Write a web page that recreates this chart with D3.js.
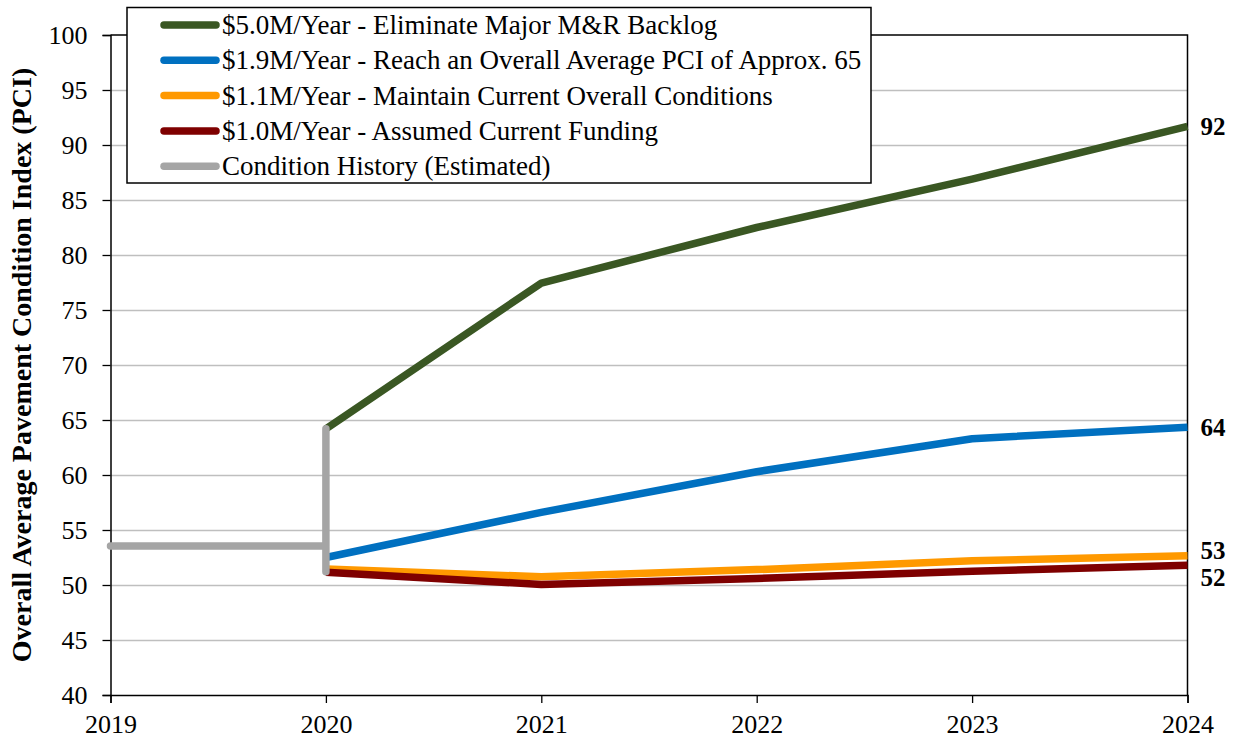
<!DOCTYPE html>
<html>
<head>
<meta charset="utf-8">
<script src="https://cdn.jsdelivr.net/npm/d3@7"></script>
<style>
  html, body { margin: 0; padding: 0; background: #fff; }
  svg { display: block; }
  text { font-family: "Liberation Serif", "Times New Roman", serif; fill: #000; }
</style>
</head>
<body>
<svg id="chart" width="1237" height="742"></svg>
<script>
// ---- Data ----
const years = [2019, 2020, 2021, 2022, 2023, 2024];
const yTicks = [40, 45, 50, 55, 60, 65, 70, 75, 80, 85, 90, 95, 100];

const seriesNames = [
  "$5.0M/Year - Eliminate Major M&R Backlog",
  "$1.9M/Year - Reach an Overall Average PCI of Approx. 65",
  "$1.1M/Year - Maintain Current Overall Conditions",
  "$1.0M/Year - Assumed Current Funding",
  "Condition History (Estimated)"
];
const seriesColors = ["#3A5723", "#0070C0", "#FF9900", "#7F0000", "#A5A5A5"];

const projYears = [2020, 2021, 2022, 2023, 2024];
const pci5_0 = [64.2, 77.45, 82.5, 86.9, 91.7];
const pci1_9 = [52.5, 56.6, 60.3, 63.3, 64.35];
const pci1_1 = [51.45, 50.75, 51.4, 52.2, 52.65];
const pci1_0 = [51.15, 50.05, 50.6, 51.25, 51.8];

const historyYears = [2019, 2020, 2020, 2020];
const historyPci = [53.55, 53.55, 64.2, 51.2];

const endLabels = ["92", "64", "53", "52"];

// ---- Layout ----
const svg = d3.select("#chart");
const pLeft = 110.5, pRight = 1187.5, pTop = 35, pBottom = 695;

const x = d3.scaleLinear().domain([2019, 2024]).range([pLeft, pRight]);
const y = d3.scaleLinear().domain([40, 100]).range([pBottom, pTop]);

const FONT = '"Liberation Serif", "Times New Roman", serif';

// Gridlines
svg.append("g")
  .selectAll("line")
  .data(yTicks.filter(d => d > 40 && d < 100))
  .join("line")
  .attr("x1", pLeft).attr("x2", pRight)
  .attr("y1", d => Math.round(y(d)) + 0.5).attr("y2", d => Math.round(y(d)) + 0.5)
  .attr("stroke", "#BFBFBF").attr("stroke-width", 1.3);

// Plot border (top and right)
svg.append("path")
  .attr("d", `M${pLeft},${pTop}H${pRight}V${pBottom}`)
  .attr("fill", "none").attr("stroke", "#000").attr("stroke-width", 1.5);

// Y axis
const yAxis = svg.append("g")
  .attr("transform", `translate(${pLeft},0)`)
  .call(d3.axisLeft(y).tickValues(yTicks).tickSize(8).tickPadding(15).tickFormat(d3.format("d")));
yAxis.select(".domain").attr("stroke", "#000").attr("stroke-width", 1.5);
yAxis.selectAll(".tick line").attr("stroke", "#000").attr("stroke-width", 1.3);
yAxis.selectAll(".tick text").attr("font-family", FONT).attr("font-size", 26).attr("fill", "#000");

// X axis
const xAxis = svg.append("g")
  .attr("transform", `translate(0,${pBottom})`)
  .call(d3.axisBottom(x).tickValues(years).tickSize(8).tickPadding(12).tickFormat(d3.format("d")));
xAxis.select(".domain").attr("stroke", "#000").attr("stroke-width", 1.5);
xAxis.selectAll(".tick line").attr("stroke", "#000").attr("stroke-width", 1.3);
xAxis.selectAll(".tick text").attr("font-family", FONT).attr("font-size", 26).attr("fill", "#000");

// Y axis title
svg.append("text")
  .attr("transform", `translate(31,${(pTop + pBottom) / 2}) rotate(-90)`)
  .attr("text-anchor", "middle")
  .attr("font-family", FONT)
  .attr("font-weight", "bold")
  .attr("font-size", 28)
  .text("Overall Average Pavement Condition Index (PCI)");

// Lines
const line = d3.line().x(d => x(d[0])).y(d => y(d[1]));
const projSeries = [pci5_0, pci1_9, pci1_1, pci1_0];
const lineW = 7.5;

projSeries.forEach((vals, i) => {
  svg.append("path")
    .datum(projYears.map((yr, j) => [yr, vals[j]]))
    .attr("fill", "none")
    .attr("stroke", seriesColors[i])
    .attr("stroke-width", lineW)
    .attr("stroke-linejoin", "round")
    .attr("stroke-linecap", "butt")
    .attr("d", line);
});

svg.append("path")
  .datum(historyYears.map((yr, j) => [yr, historyPci[j]]))
  .attr("fill", "none")
  .attr("stroke", seriesColors[4])
  .attr("stroke-width", lineW)
  .attr("stroke-linejoin", "round")
  .attr("stroke-linecap", "round")
  .attr("d", line);

// End labels
const labelDy = [0, 0, -6, 12.5];
projSeries.forEach((vals, i) => {
  svg.append("text")
    .attr("x", pRight + 13)
    .attr("y", y(vals[vals.length - 1]) + labelDy[i])
    .attr("dy", "0.35em")
    .attr("font-family", FONT)
    .attr("font-weight", "bold")
    .attr("font-size", 25)
    .text(endLabels[i]);
});

// Legend
const lg = svg.append("g");
lg.append("rect")
  .attr("x", 127).attr("y", 7.5).attr("width", 744).attr("height", 175.5)
  .attr("fill", "#fff").attr("stroke", "#000").attr("stroke-width", 1.5);
seriesNames.forEach((name, i) => {
  const cy = 25 + i * 35.3;
  lg.append("line")
    .attr("x1", 164).attr("x2", 216)
    .attr("y1", cy).attr("y2", cy)
    .attr("stroke", seriesColors[i]).attr("stroke-width", lineW)
    .attr("stroke-linecap", "round");
  lg.append("text")
    .attr("x", 222).attr("y", cy)
    .attr("dy", "0.33em")
    .attr("font-family", FONT)
    .attr("font-size", 27)
    .text(name);
});
</script>
</body>
</html>
